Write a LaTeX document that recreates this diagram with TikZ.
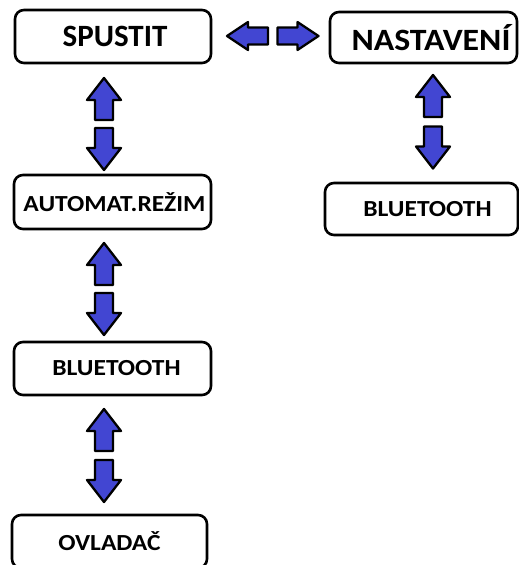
\documentclass[tikz,border=0pt]{standalone}
\usepackage{fontspec}
\setmainfont{Carlito}
\definecolor{arrowblue}{RGB}{66,70,210}
\newcommand{\wide}[1]{\scalebox{1.11}[1]{#1}}
\begin{document}
\begin{tikzpicture}[x=1pt,y=-1pt,
  box/.style={draw=black, line width=2.6pt, rounded corners=9pt, fill=white,
    inner sep=0pt, font=\bfseries\fontsize{23}{23}\selectfont},
  bigbox/.style={box, font=\bfseries\fontsize{31}{31}\selectfont},
  blk/.style={draw=black, fill=arrowblue, line width=2.3pt, line join=round},
  varrow/.pic={\draw[blk] (0,-21) -- (17,1) -- (9,1) -- (9,21) -- (-9,21) -- (-9,1) -- (-17,1) -- cycle;},
  harrow/.pic={\draw[blk] (0,-20.5) -- (14,0.5) -- (8.5,0.5) -- (8.5,20.5) -- (-8.5,20.5) -- (-8.5,0.5) -- (-14,0.5) -- cycle;}
]
\useasboundingbox (0,0) rectangle (519,565);
\begin{scope}
\clip (0,0) rectangle (519,565);
\node[bigbox, minimum width=196pt, minimum height=53pt] (spustit) at (113,36.5) {\hspace{4pt}SPUSTIT};
\node[bigbox, minimum width=187pt, minimum height=51pt] (nast) at (423.5,37.5) {\hspace{15pt}\scalebox{1.09}[1]{NASTAVENÍ}};
\node[box, minimum width=197pt, minimum height=54pt] (auto) at (112.5,202) {\hspace{4pt}\wide{AUTOMAT.REŽIM}};
\node[box, minimum width=193pt, minimum height=52pt] (btr) at (421.5,209) {\hspace{12pt}\wide{BLUETOOTH}};
\node[box, minimum width=197pt, minimum height=53pt] (btl) at (112.5,368.5) {\hspace{8pt}\wide{BLUETOOTH}};
\node[box, minimum width=195pt, minimum height=53pt] (ovl) at (109.5,541.5) {\wide{OVLADAČ}};
\end{scope}
% horizontal arrows between SPUSTIT and NASTAVENI
\pic (hl) at (247.5,36) [rotate=90] {harrow};
\pic (hr) at (298,36) [rotate=-90] {harrow};
% left column
\pic (u1) at (104,99) {varrow};
\pic (d1) at (104,149) [rotate=180] {varrow};
\pic (u2) at (104,264) {varrow};
\pic (d2) at (104,314) [rotate=180] {varrow};
\pic (u3) at (104,430) {varrow};
\pic (d3) at (104,481) [rotate=180] {varrow};
% right column
\pic (u4) at (433,96) {varrow};
\pic (d4) at (433,147.5) [rotate=180] {varrow};
\end{tikzpicture}
\end{document}
